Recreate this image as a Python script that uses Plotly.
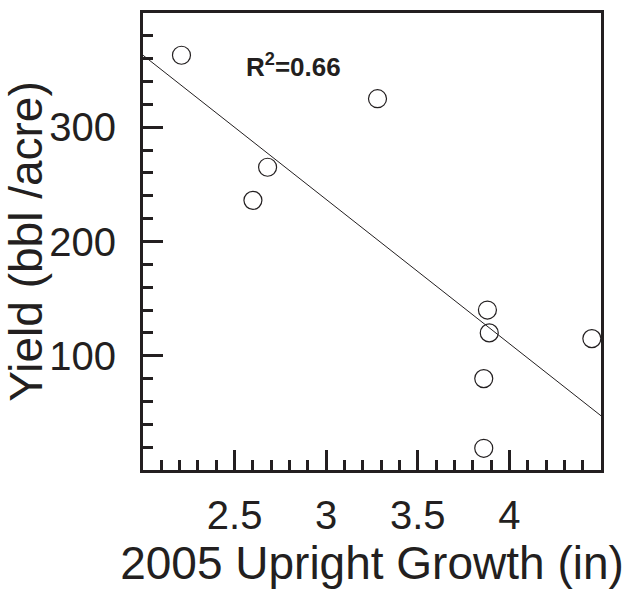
import numpy as np
import plotly.graph_objects as go

# ---- data ----
growth_in = [2.21, 3.28, 2.68, 2.60, 3.88, 3.89, 4.45, 3.86, 3.86]
yield_bbl = [363, 325, 265, 236, 140, 120, 115, 80, 19]

x_ticks = [2.5, 3, 3.5, 4]
x_tick_labels = ["2.5", "3", "3.5", "4"]
y_ticks = [100, 200, 300]
y_tick_labels = ["100", "200", "300"]
x_range = [2.0, 4.5]
y_range = [0, 400]

INK = "#231f20"
FONT = "Liberation Sans, Arial, Helvetica, sans-serif"

# least-squares fit computed from the data
slope, intercept = np.polyfit(growth_in, yield_bbl, 1)
fit_x = np.array(x_range)
fit_y = slope * fit_x + intercept

fig = go.Figure()
fig.add_trace(go.Scatter(
    x=fit_x, y=fit_y, mode="lines",
    line=dict(color=INK, width=1), hoverinfo="skip",
))
fig.add_trace(go.Scatter(
    x=growth_in, y=yield_bbl, mode="markers",
    marker=dict(symbol="circle-open", size=18, color=INK, line=dict(width=1.2, color=INK)),
))

fig.add_annotation(
    x=2.55, y=354, xref="x", yref="y",
    text="<b>R<sup>2</sup>=0.66</b>", showarrow=False,
    xanchor="left", yanchor="middle",
    font=dict(family=FONT, size=26, color=INK),
)

axis_common = dict(
    showline=True, linewidth=3, linecolor=INK, mirror=True,
    ticks="inside", ticklen=20, tickwidth=3, tickcolor=INK,
    showgrid=False, zeroline=False,
    tickfont=dict(family=FONT, size=40, color=INK),
)

fig.update_xaxes(
    range=x_range, tickmode="array", tickvals=x_ticks, ticktext=x_tick_labels,
    minor=dict(ticks="inside", ticklen=10, tickwidth=3, tickcolor=INK, dtick=0.1, tick0=2.0, showgrid=False),
    ticklabelstandoff=8,
    title=dict(text="2005 Upright Growth (in)", font=dict(family=FONT, size=46, color=INK), standoff=6),
    **axis_common,
)
fig.update_yaxes(
    range=y_range, tickmode="array", tickvals=y_ticks, ticktext=y_tick_labels,
    minor=dict(ticks="inside", ticklen=10, tickwidth=3, tickcolor=INK, dtick=20, tick0=0, showgrid=False),
    ticklabelstandoff=16,
    title=dict(text="Yield (bbl /acre)", font=dict(family=FONT, size=46, color=INK), standoff=0),
    **axis_common,
)

fig.update_layout(
    width=630, height=590,
    margin=dict(l=143, r=29, t=13, b=120, autoexpand=False),
    plot_bgcolor="white", paper_bgcolor="white",
    showlegend=False,
    font=dict(family=FONT, color=INK),
)

fig.write_html("out.html")
